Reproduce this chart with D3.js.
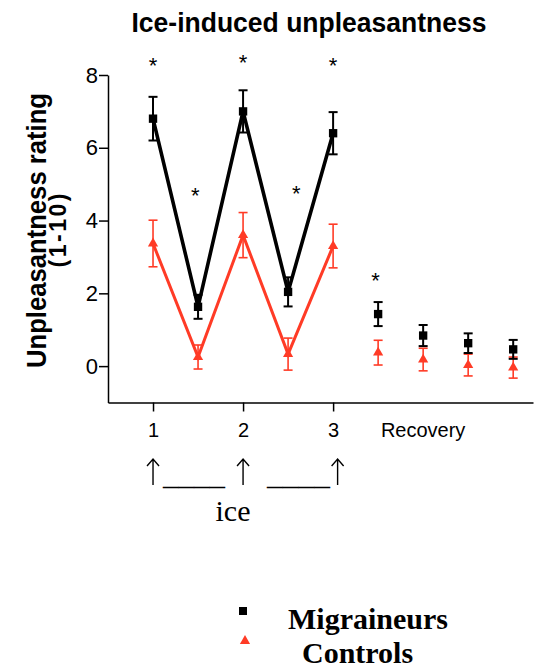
<!DOCTYPE html>
<html>

<head>
    <meta charset="utf-8">
    <style>
        body {
            margin: 0;
            background: #fff;
        }

        svg {
            font-family: 'Liberation Sans', Arial, Helvetica, sans-serif;
        }

        .axis .domain,
        .axis .tick line {
            stroke: #000;
            stroke-width: 1.5px;
        }

        .y .tick text {
            font-size: 22px;
            fill: #000;
        }

        .x .tick text {
            font-size: 20px;
            fill: #000;
        }

        .serif {
            font-family: 'Liberation Serif', 'Times New Roman', serif;
        }
    </style>
</head>

<body>
    <svg width="540" height="672"></svg>
</body>

<script src="https://d3js.org/d3.v7.min.js"></script>

<script>
    // time points: 1, 2, 3 are ice, the halves are between, 3.5+ is recovery
    let timepoints = [1, 1.5, 2, 2.5, 3, 3.5, 4, 4.5, 5];

    let migraineMean = [6.8, 1.63, 7.0, 2.04, 6.4, 1.43, 0.84, 0.63, 0.46];
    let migraineErr = [0.6, 0.33, 0.58, 0.4, 0.58, 0.33, 0.29, 0.27, 0.26];

    let controlMean = [3.37, 0.25, 3.6, 0.33, 3.3, 0.37, 0.18, 0.03, -0.04];
    let controlErr = [0.64, 0.33, 0.62, 0.44, 0.6, 0.34, 0.31, 0.3, 0.29];

    // significance stars
    let starX = [1, 1.47, 2, 2.59, 3, 3.47];
    let starY = [8.39, 4.84, 8.48, 4.88, 8.39, 2.5];

    let yTicks = [0, 2, 4, 6, 8];
    let xTicks = [1, 2, 3];

    // where the ice arrows sit (x units)
    let arrowX = [1, 2, 3.05];

    let nLinked = 5; // first five points get joined by a line

    let red = "#ff3b26";

    let svg = d3.select("svg");

    let x = d3.scaleLinear()
        .domain([0.5, 5.22])
        .range([108, 533]);

    let y = d3.scaleLinear()
        .domain([-1, 8])
        .range([402.5, 75]);

    // axes
    svg.append("g")
        .attr("class", "y axis")
        .attr("transform", "translate(108,0)")
        .call(d3.axisLeft(y).tickValues(yTicks).tickSize(9).tickSizeOuter(0).tickPadding(1));

    svg.append("g")
        .attr("class", "x axis")
        .attr("transform", "translate(0,402.5)")
        .call(d3.axisBottom(x).tickValues(xTicks).tickFormat(d3.format("d"))
            .tickSize(9).tickSizeOuter(0).tickPadding(11));

    svg.append("text")
        .attr("x", x(4))
        .attr("y", 437)
        .attr("text-anchor", "middle")
        .style("font-size", "20px")
        .text("Recovery");

    function series(means, errs) {
        return timepoints.map((t, i) => ({ t: t, m: means[i], e: errs[i] }));
    }

    let groups = [
        { name: "Controls", data: series(controlMean, controlErr), color: red, lw: 3, ew: 1.6, shape: "tri" },
        { name: "Migraineurs", data: series(migraineMean, migraineErr), color: "#000", lw: 3.6, ew: 2, shape: "sq" }
    ];

    let line = d3.line()
        .x(d => x(d.t))
        .y(d => y(d.m));

    groups.forEach(g => {
        let layer = svg.append("g");

        layer.append("path")
            .attr("d", line(g.data.slice(0, nLinked)))
            .attr("fill", "none")
            .attr("stroke", g.color)
            .attr("stroke-width", g.lw)
            .attr("stroke-linejoin", "miter");

        // error bars
        let eb = layer.selectAll(".eb")
            .data(g.data)
            .join("g")
            .attr("stroke", g.color)
            .attr("stroke-width", g.ew);

        eb.append("line")
            .attr("x1", d => x(d.t)).attr("x2", d => x(d.t))
            .attr("y1", d => y(d.m + d.e)).attr("y2", d => y(d.m - d.e));
        eb.append("line")
            .attr("x1", d => x(d.t) - 4.5).attr("x2", d => x(d.t) + 4.5)
            .attr("y1", d => y(d.m + d.e)).attr("y2", d => y(d.m + d.e));
        eb.append("line")
            .attr("x1", d => x(d.t) - 4.5).attr("x2", d => x(d.t) + 4.5)
            .attr("y1", d => y(d.m - d.e)).attr("y2", d => y(d.m - d.e));

        let sym = g.shape == "sq"
            ? d3.symbol().type(d3.symbolSquare).size(70)
            : d3.symbol().type(d3.symbolTriangle).size(45);

        layer.selectAll(".pt")
            .data(g.data)
            .join("path")
            .attr("transform", d => `translate(${x(d.t)},${y(d.m)})`)
            .attr("d", sym)
            .attr("fill", g.color);
    });

    // stars
    svg.selectAll(".star")
        .data(starX.map((s, i) => ({ sx: s, sy: starY[i] })))
        .join("text")
        .attr("x", d => x(d.sx))
        .attr("y", d => y(d.sy))
        .attr("dy", "0.57em")
        .attr("text-anchor", "middle")
        .style("font-size", "22px")
        .text("*");

    // title
    svg.append("text")
        .attr("x", 309)
        .attr("y", 32)
        .attr("text-anchor", "middle")
        .style("font-size", "28px")
        .style("font-weight", "bold")
        .attr("textLength", 355)
        .attr("lengthAdjust", "spacingAndGlyphs")
        .text("Ice-induced unpleasantness");

    // y label
    let ylab = svg.append("g")
        .attr("transform", "translate(46,230.5) rotate(-90)");
    ylab.append("text")
        .attr("text-anchor", "middle")
        .style("font-size", "28px")
        .style("font-weight", "bold")
        .attr("textLength", 275)
        .attr("lengthAdjust", "spacingAndGlyphs")
        .text("Unpleasantness rating");
    ylab.append("text")
        .attr("y", 20)
        .attr("text-anchor", "middle")
        .style("font-size", "23px")
        .style("font-weight", "bold")
        .attr("textLength", 74)
        .attr("lengthAdjust", "spacing")
        .text("(1-10)");

    // ice arrows, drawn as strokes
    let arrows = svg.append("g")
        .attr("fill", "none")
        .attr("stroke", "#000")
        .attr("stroke-width", 1.4);
    arrowX.forEach(a => {
        let ax = x(a);
        arrows.append("path")
            .attr("d", `M${ax},485 V459 M${ax - 6},466 L${ax},459 L${ax + 6},466`);
    });

    let arrowRow = svg.append("g").attr("class", "serif").style("font-size", "30px");
    arrowRow.append("text")
        .attr("x", 163).attr("y", 485)
        .attr("textLength", 62).attr("lengthAdjust", "spacingAndGlyphs")
        .text("____");
    arrowRow.append("text")
        .attr("x", 267).attr("y", 485)
        .attr("textLength", 63).attr("lengthAdjust", "spacingAndGlyphs")
        .text("____");
    arrowRow.append("text")
        .attr("x", 233).attr("y", 521)
        .attr("text-anchor", "middle")
        .text("ice");

    // legend
    let legend = svg.append("g");
    legend.append("path")
        .attr("transform", "translate(243,611)")
        .attr("d", d3.symbol().type(d3.symbolSquare).size(64))
        .attr("fill", "#000");
    legend.append("path")
        .attr("transform", "translate(245,641)")
        .attr("d", d3.symbol().type(d3.symbolTriangle).size(45))
        .attr("fill", red);
    legend.append("text")
        .attr("class", "serif")
        .attr("x", 288).attr("y", 629)
        .style("font-size", "30px").style("font-weight", "bold")
        .text("Migraineurs");
    legend.append("text")
        .attr("class", "serif")
        .attr("x", 302).attr("y", 663)
        .style("font-size", "30px").style("font-weight", "bold")
        .text("Controls");
</script>

</html>
